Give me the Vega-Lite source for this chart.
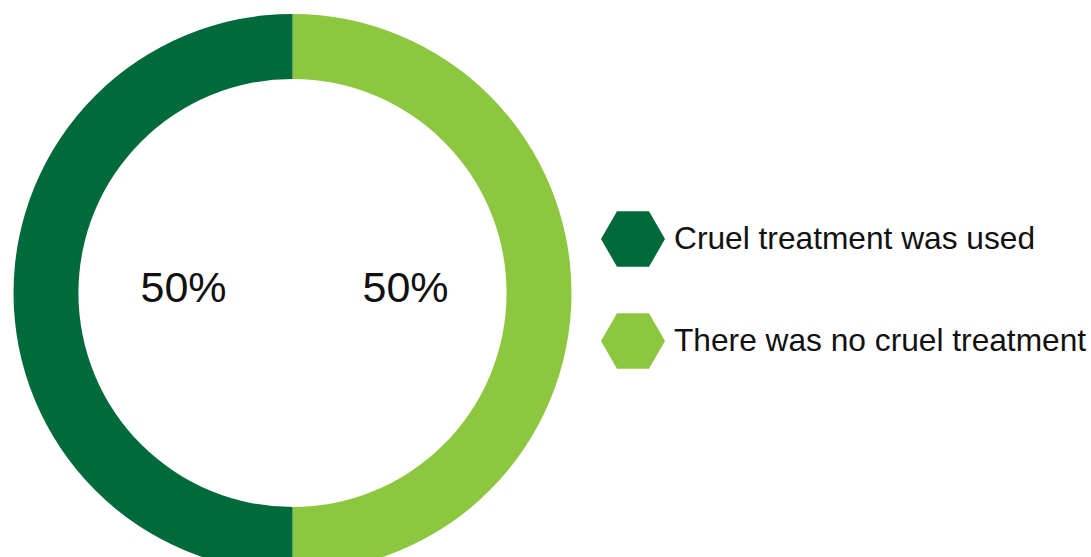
{
  "$schema": "https://vega.github.io/schema/vega-lite/v6.json",
  "width": 585,
  "height": 586,
  "padding": 0,
  "background": "white",
  "data": {
    "values": [
      {"category": "There was no cruel treatment", "value": 50, "label": "50%", "ord": 1},
      {"category": "Cruel treatment was used", "value": 50, "label": "50%", "ord": 2}
    ]
  },
  "encoding": {
    "theta": {"field": "value", "type": "quantitative", "stack": true},
    "order": {"field": "ord", "type": "quantitative"}
  },
  "layer": [
    {
      "mark": {"type": "arc", "outerRadius": 279, "innerRadius": 214, "strokeWidth": 0},
      "encoding": {
        "color": {
          "field": "category",
          "type": "nominal",
          "scale": {
            "domain": ["Cruel treatment was used", "There was no cruel treatment"],
            "range": ["#006A3A", "#8DC63F"]
          },
          "legend": {
            "title": null,
            "orient": "none",
            "legendX": 601,
            "legendY": 207,
            "padding": 0,
            "symbolType": "M-1,0L-0.5,-0.87L0.5,-0.87L1,0L0.5,0.87L-0.5,0.87Z",
            "symbolSize": 4096,
            "symbolStrokeWidth": 0,
            "symbolOpacity": 1,
            "labelFont": "Liberation Sans",
            "labelFontSize": 31.7,
            "labelColor": "#111111",
            "labelLimit": 800,
            "labelOffset": 9,
            "rowPadding": 42
          }
        }
      }
    },
    {
      "mark": {"type": "text", "radius": 111, "font": "Liberation Sans", "fontSize": 43, "color": "#111111", "dy": -4, "dx": 2},
      "encoding": {
        "text": {"field": "label", "type": "nominal"}
      }
    }
  ]
}
